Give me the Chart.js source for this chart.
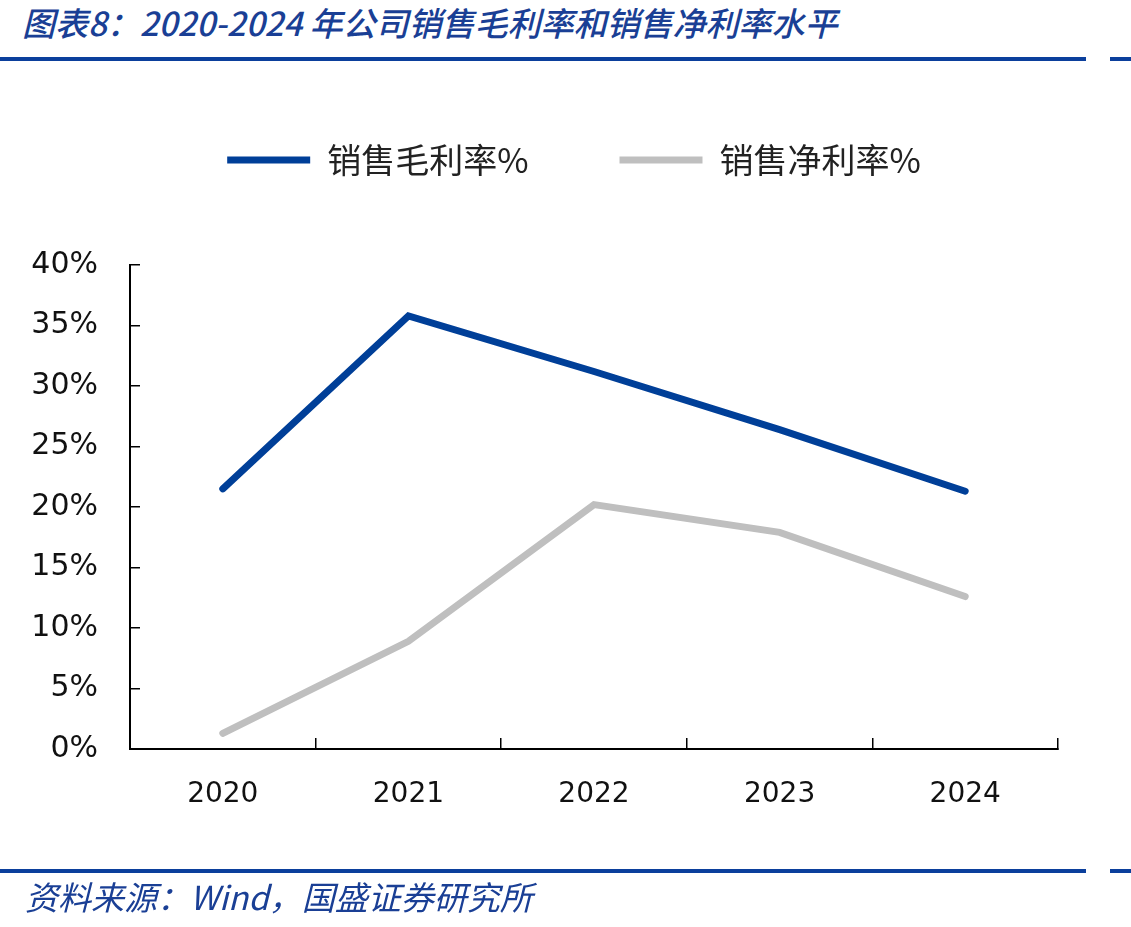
<!DOCTYPE html>
<html>
<head>
<meta charset="utf-8">
<script src="https://cdn.jsdelivr.net/npm/chart.js@4/dist/chart.umd.min.js"></script>
<style>
  html, body { margin: 0; padding: 0; background: #fff; }
  #wrap { position: relative; width: 1131px; height: 927px; overflow: hidden; }
  #c { position: absolute; left: 0; top: 0; }
  .title { position: absolute; left: 22px; top: 0px; font: italic 500 33px "Noto Sans CJK SC", sans-serif; line-height: 44px; color: #1a3f95; white-space: nowrap; }
  .src { position: absolute; left: 25px; top: 876px; font: italic 33px "Noto Sans CJK SC", sans-serif; line-height: 40px; color: #1a3f95; white-space: nowrap; }
  .rule { position: absolute; height: 4px; background: #0b3f9c; }
</style>
</head>
<body>
<div id="wrap">
  <div class="title">图表8：2020-2024 年公司销售毛利率和销售净利率水平</div>
  <div class="rule" style="left:0;top:57px;width:1086px;"></div>
  <div class="rule" style="left:1110px;top:57px;width:21px;"></div>
  <canvas id="c" width="1131" height="927"></canvas>
  <div class="rule" style="left:0;top:869px;width:1086px;"></div>
  <div class="rule" style="left:1110px;top:869px;width:21px;"></div>
  <div class="src">资料来源：Wind，国盛证券研究所</div>
</div>
<script>
const categories = ['2020', '2021', '2022', '2023', '2024'];
const grossMargin = [21.5, 35.8, 31.2, 26.4, 21.3];
const netMargin = [1.3, 8.9, 20.2, 17.9, 12.6];
const seriesNames = ['销售毛利率%', '销售净利率%'];
const yTicks = { min: 0, max: 40, step: 5 };

const legendShift = {
  id: 'legendShift',
  afterLayout(chart) {
    if (chart.legend) { chart.legend.left -= 20; chart.legend.right -= 20; }
  }
};

new Chart(document.getElementById('c'), {
  type: 'line',
  data: {
    labels: categories,
    datasets: [
      { label: seriesNames[0], data: grossMargin, borderColor: '#003f98', backgroundColor: '#003f98',
        borderWidth: 7, pointRadius: 0, borderCapStyle: 'round', borderJoinStyle: 'miter', tension: 0 },
      { label: seriesNames[1], data: netMargin, borderColor: '#bfbfbf', backgroundColor: '#bfbfbf',
        borderWidth: 7, pointRadius: 0, borderCapStyle: 'round', borderJoinStyle: 'miter', tension: 0 }
    ]
  },
  plugins: [legendShift],
  options: {
    responsive: false,
    animation: false,
    layout: { padding: { left: 0, right: 73, top: 52, bottom: 98 } },
    plugins: {
      tooltip: { enabled: false },
      legend: {
        position: 'top',
        fullSize: false,
        labels: {
          usePointStyle: true, pointStyle: 'line', pointStyleWidth: 83,
          padding: 91, color: '#222',
          font: { family: '"Noto Sans CJK SC", sans-serif', size: 34, weight: 400 }
        }
      },
      title: { display: true, text: '', weight: 500, padding: { top: 33, bottom: 33 }, font: { size: 10, lineHeight: 1.2 } }
    },
    scales: {
      x: {
        offset: true,
        grid: { offset: true, drawOnChartArea: false, drawTicks: true, tickLength: -11, color: '#000', lineWidth: 1.5 },
        border: { display: true, color: '#000', width: 2 },
        ticks: { color: '#111', padding: 40, font: { family: '"DejaVu Sans", sans-serif', size: 28 } },
        afterFit: s => { s.height = 80; }
      },
      y: {
        min: yTicks.min, max: yTicks.max,
        grid: { drawOnChartArea: false, drawTicks: true, tickLength: -10, color: '#000', lineWidth: 1.5 },
        border: { display: true, color: '#000', width: 2 },
        ticks: { stepSize: yTicks.step, color: '#111', padding: 42, callback: v => v + '%',
          font: { family: '"DejaVu Sans", sans-serif', size: 30 } },
        afterFit: s => { s.width = 130; }
      }
    }
  }
});
</script>
</body>
</html>
